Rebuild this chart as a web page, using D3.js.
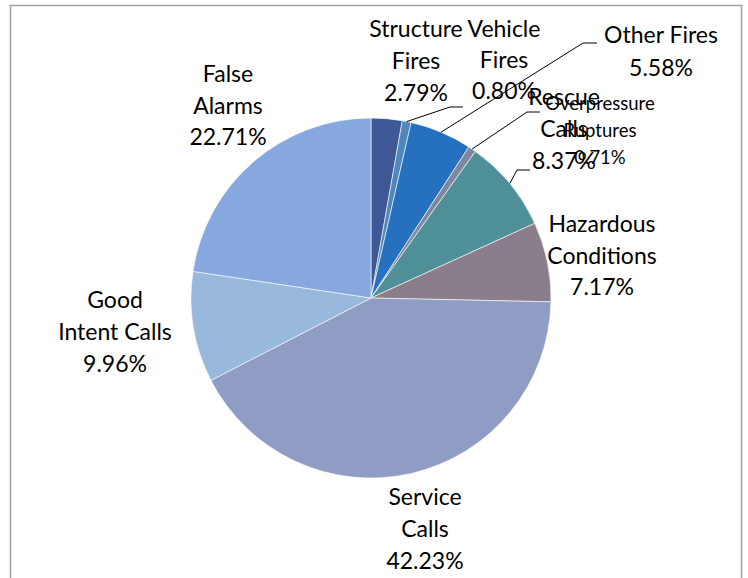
<!DOCTYPE html>
<meta charset="utf-8">
<style>
  body { margin: 0; background: #fff; }
  text { font-family: Lato, "Open Sans", sans-serif; fill: #000; }
</style>
<body>
<script src="https://cdnjs.cloudflare.com/ajax/libs/d3/7.8.5/d3.min.js"></script>
<script>

// data
var categories = ["Structure Fires", "Vehicle Fires", "Other Fires", "Overpressure Ruptures",
    "Rescue Calls", "Hazardous Conditions", "Service Calls", "Good Intent Calls", "False Alarms"];
var values = [2.79, 0.80, 5.58, 0.71, 8.37, 7.17, 42.23, 9.96, 22.71];
var labelLines = [["Structure", "Fires"], ["Vehicle", "Fires"], ["Other Fires"], ["Overpressure", "Ruptures"],
    ["Rescue", "Calls"], ["Hazardous", "Conditions"], ["Service", "Calls"], ["Good", "Intent Calls"], ["False", "Alarms"]];
var colors = ["#3e5896", "#4f87bd", "#2571c0", "#7d889e", "#4f8f97", "#8a7e8b", "#8f9cc3", "#98b8dc", "#87a8de"];

// layout: label centre x, first baseline y, line step, font size, leader elbow / end (null = no leader)
var layout = [
    {x: 416, y: 37, step: 32, size: 23, elbow: null},
    {x: 504, y: 37, step: 31, size: 23, elbow: [450, 107], end: [463, 107]},
    {x: 661, y: 43, step: 33, size: 23, elbow: [583, 43], end: [597, 43]},
    {x: 600, y: 110, step: 27, size: 18.5, elbow: [527, 112], end: [540, 112]},
    {x: 564, y: 105, step: 32, size: 23, elbow: [517, 170], end: [530, 170]},
    {x: 602, y: 232, step: 31.5, size: 23, elbow: null},
    {x: 425, y: 505, step: 32, size: 23, elbow: null},
    {x: 115, y: 308, step: 32, size: 23, elbow: null},
    {x: 228, y: 82, step: 31.5, size: 23, elbow: null}
];

var width = 748,
    height = 578,
    cx = 371, cy = 298, radius = 180;

var svg = d3.select("body").append("svg")
    .attr("width", width)
    .attr("height", height);

svg.append("rect")
    .attr("x", 10.5).attr("y", 5.5)
    .attr("width", 731).attr("height", 600)
    .attr("fill", "none")
    .attr("stroke", "#a0a0a0")
    .attr("stroke-width", 1.5);

var pie = d3.pie().sort(null).value(function(d) { return d; });
var arcs = pie(values);
var arc = d3.arc().innerRadius(0).outerRadius(radius);

var g = svg.append("g").attr("transform", "translate(" + cx + "," + cy + ")");

g.selectAll("path")
    .data(arcs)
  .enter().append("path")
    .attr("d", arc)
    .attr("fill", function(d, i) { return colors[i]; })
    .attr("stroke", "#fff")
    .attr("stroke-width", 0.6);

// leader lines
arcs.forEach(function(d, i) {
    var L = layout[i];
    if (!L.elbow) return;
    var a = (d.startAngle + d.endAngle) / 2;
    var p0 = [cx + radius * Math.sin(a), cy - radius * Math.cos(a)];
    svg.append("polyline")
        .attr("points", [p0, L.elbow, L.end].map(function(p) { return p.join(","); }).join(" "))
        .attr("fill", "none")
        .attr("stroke", "#000")
        .attr("stroke-width", 1);
});

// labels
arcs.forEach(function(d, i) {
    var L = layout[i];
    var lines = labelLines[i].concat([values[i].toFixed(2) + "%"]);
    var t = svg.append("text")
        .attr("text-anchor", "middle")
        .style("font-size", L.size + "px");
    lines.forEach(function(s, k) {
        t.append("tspan")
            .attr("x", L.x)
            .attr("y", L.y + k * L.step)
            .text(s);
    });
});

</script>
